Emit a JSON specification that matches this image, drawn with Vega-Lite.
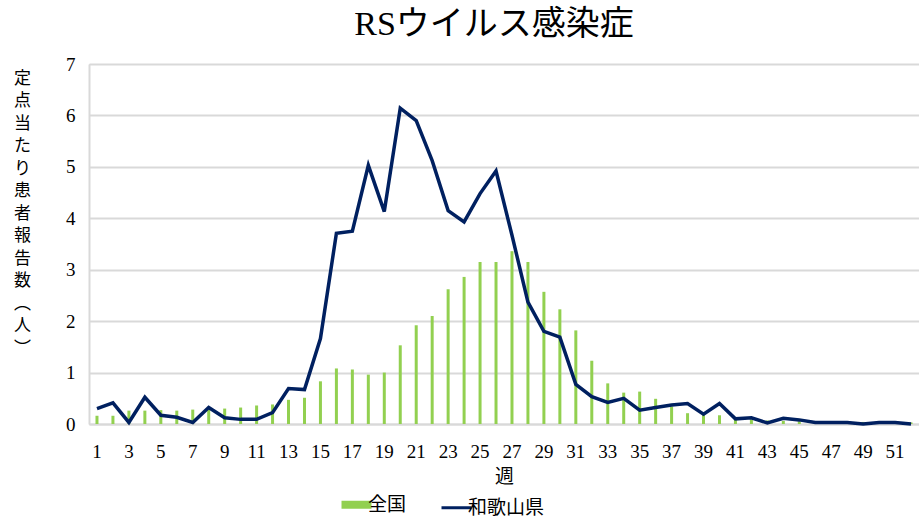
{
  "$schema": "https://vega.github.io/schema/vega-lite/v6.json",
  "width": 830,
  "height": 360,
  "autosize": {"type": "none"},
  "padding": {"left": 89, "top": 64, "right": 0, "bottom": 96},
  "background": "white",
  "title": {
    "text": "RSウイルス感染症",
    "font": "Liberation Serif, Noto Sans CJK JP",
    "fontSize": 34,
    "fontWeight": "normal",
    "color": "#000000",
    "anchor": "middle",
    "dx": -10,
    "offset": 13
  },
  "data": {
    "values": [
      {"week": 1, "zenkoku": 0.16, "wakayama": 0.30},
      {"week": 2, "zenkoku": 0.16, "wakayama": 0.41},
      {"week": 3, "zenkoku": 0.26, "wakayama": 0.03},
      {"week": 4, "zenkoku": 0.26, "wakayama": 0.52},
      {"week": 5, "zenkoku": 0.27, "wakayama": 0.17},
      {"week": 6, "zenkoku": 0.26, "wakayama": 0.13},
      {"week": 7, "zenkoku": 0.28, "wakayama": 0.03},
      {"week": 8, "zenkoku": 0.28, "wakayama": 0.32},
      {"week": 9, "zenkoku": 0.30, "wakayama": 0.12},
      {"week": 10, "zenkoku": 0.32, "wakayama": 0.09},
      {"week": 11, "zenkoku": 0.36, "wakayama": 0.09},
      {"week": 12, "zenkoku": 0.38, "wakayama": 0.22},
      {"week": 13, "zenkoku": 0.47, "wakayama": 0.69},
      {"week": 14, "zenkoku": 0.51, "wakayama": 0.67},
      {"week": 15, "zenkoku": 0.83, "wakayama": 1.66},
      {"week": 16, "zenkoku": 1.08, "wakayama": 3.71},
      {"week": 17, "zenkoku": 1.06, "wakayama": 3.75},
      {"week": 18, "zenkoku": 0.96, "wakayama": 5.03},
      {"week": 19, "zenkoku": 1.00, "wakayama": 4.13},
      {"week": 20, "zenkoku": 1.53, "wakayama": 6.14},
      {"week": 21, "zenkoku": 1.92, "wakayama": 5.90},
      {"week": 22, "zenkoku": 2.10, "wakayama": 5.12},
      {"week": 23, "zenkoku": 2.62, "wakayama": 4.15},
      {"week": 24, "zenkoku": 2.86, "wakayama": 3.93},
      {"week": 25, "zenkoku": 3.15, "wakayama": 4.48},
      {"week": 26, "zenkoku": 3.15, "wakayama": 4.92},
      {"week": 27, "zenkoku": 3.36, "wakayama": 3.67},
      {"week": 28, "zenkoku": 3.15, "wakayama": 2.37},
      {"week": 29, "zenkoku": 2.57, "wakayama": 1.80},
      {"week": 30, "zenkoku": 2.23, "wakayama": 1.69},
      {"week": 31, "zenkoku": 1.82, "wakayama": 0.77},
      {"week": 32, "zenkoku": 1.23, "wakayama": 0.53},
      {"week": 33, "zenkoku": 0.79, "wakayama": 0.42},
      {"week": 34, "zenkoku": 0.61, "wakayama": 0.50},
      {"week": 35, "zenkoku": 0.63, "wakayama": 0.27},
      {"week": 36, "zenkoku": 0.49, "wakayama": 0.32},
      {"week": 37, "zenkoku": 0.34, "wakayama": 0.37},
      {"week": 38, "zenkoku": 0.21, "wakayama": 0.40},
      {"week": 39, "zenkoku": 0.18, "wakayama": 0.19},
      {"week": 40, "zenkoku": 0.17, "wakayama": 0.40},
      {"week": 41, "zenkoku": 0.11, "wakayama": 0.10},
      {"week": 42, "zenkoku": 0.09, "wakayama": 0.12},
      {"week": 43, "zenkoku": 0.07, "wakayama": 0.02},
      {"week": 44, "zenkoku": 0.06, "wakayama": 0.11},
      {"week": 45, "zenkoku": 0.05, "wakayama": 0.08},
      {"week": 46, "zenkoku": 0.05, "wakayama": 0.03},
      {"week": 47, "zenkoku": 0.04, "wakayama": 0.03},
      {"week": 48, "zenkoku": 0.04, "wakayama": 0.03},
      {"week": 49, "zenkoku": 0.04, "wakayama": 0.00},
      {"week": 50, "zenkoku": 0.03, "wakayama": 0.03},
      {"week": 51, "zenkoku": 0.03, "wakayama": 0.03},
      {"week": 52, "zenkoku": 0.03, "wakayama": 0.00}
    ]
  },
  "encoding": {
    "x": {
      "field": "week",
      "type": "ordinal",
      "scale": {"paddingInner": 0.8, "paddingOuter": 0.4},
      "axis": {
        "title": "週",
        "titleFont": "Noto Sans CJK JP",
        "titleFontSize": 19,
        "titleFontWeight": "normal",
        "titleColor": "#000000",
        "titlePadding": 6,
        "values": [1, 3, 5, 7, 9, 11, 13, 15, 17, 19, 21, 23, 25, 27, 29, 31, 33, 35, 37, 39, 41, 43, 45, 47, 49, 51],
        "labelAngle": 0,
        "labelFont": "Liberation Serif",
        "labelFontSize": 19,
        "labelColor": "#000000",
        "labelPadding": 18,
        "ticks": false,
        "domainColor": "#d9d9d9",
        "domainWidth": 2,
        "grid": false
      }
    }
  },
  "layer": [
    {
      "mark": {"type": "bar", "size": 3},
      "encoding": {
        "y": {
          "field": "zenkoku",
          "type": "quantitative",
          "scale": {"domain": [0, 7]},
          "axis": {
            "title": ["定", "点", "当", "た", "り", "患", "者", "報", "告", "数", "︵", "人", "︶"],
            "titleFont": "Noto Sans CJK JP",
            "titleFontSize": 17,
            "titleFontWeight": "normal",
            "titleColor": "#000000",
            "titleAngle": 0,
            "titleAlign": "center",
            "titleBaseline": "top",
            "titleLineHeight": 22.5,
            "titleX": -67,
            "titleY": 6,
            "values": [0, 1, 2, 3, 4, 5, 6, 7],
            "labelFont": "Liberation Serif",
            "labelFontSize": 19,
            "labelColor": "#000000",
            "labelPadding": 14,
            "ticks": false,
            "domainColor": "#d9d9d9",
            "domainWidth": 2,
            "gridColor": "#d9d9d9",
            "gridWidth": 2
          }
        },
        "color": {
          "datum": "全国",
          "type": "nominal",
          "scale": {"domain": ["全国", "和歌山県"], "range": ["#92D050", "#002060"]},
          "legend": {
            "title": null,
            "orient": "none",
            "direction": "horizontal",
            "legendX": 258,
            "legendY": 431,
            "symbolType": "stroke",
            "symbolSize": 900,
            "labelFont": "Noto Sans CJK JP",
            "labelFontSize": 19,
            "labelColor": "#000000",
            "labelOffset": 2,
            "columnPadding": 28,
            "encode": {
              "symbols": {
                "update": {
                  "strokeWidth": {"signal": "datum.value === '全国' ? 8 : 3"}
                }
              }
            }
          }
        }
      }
    },
    {
      "mark": {"type": "line", "strokeWidth": 3.5, "strokeJoin": "miter"},
      "encoding": {
        "y": {"field": "wakayama", "type": "quantitative"},
        "color": {"datum": "和歌山県", "type": "nominal"}
      }
    }
  ]
}
